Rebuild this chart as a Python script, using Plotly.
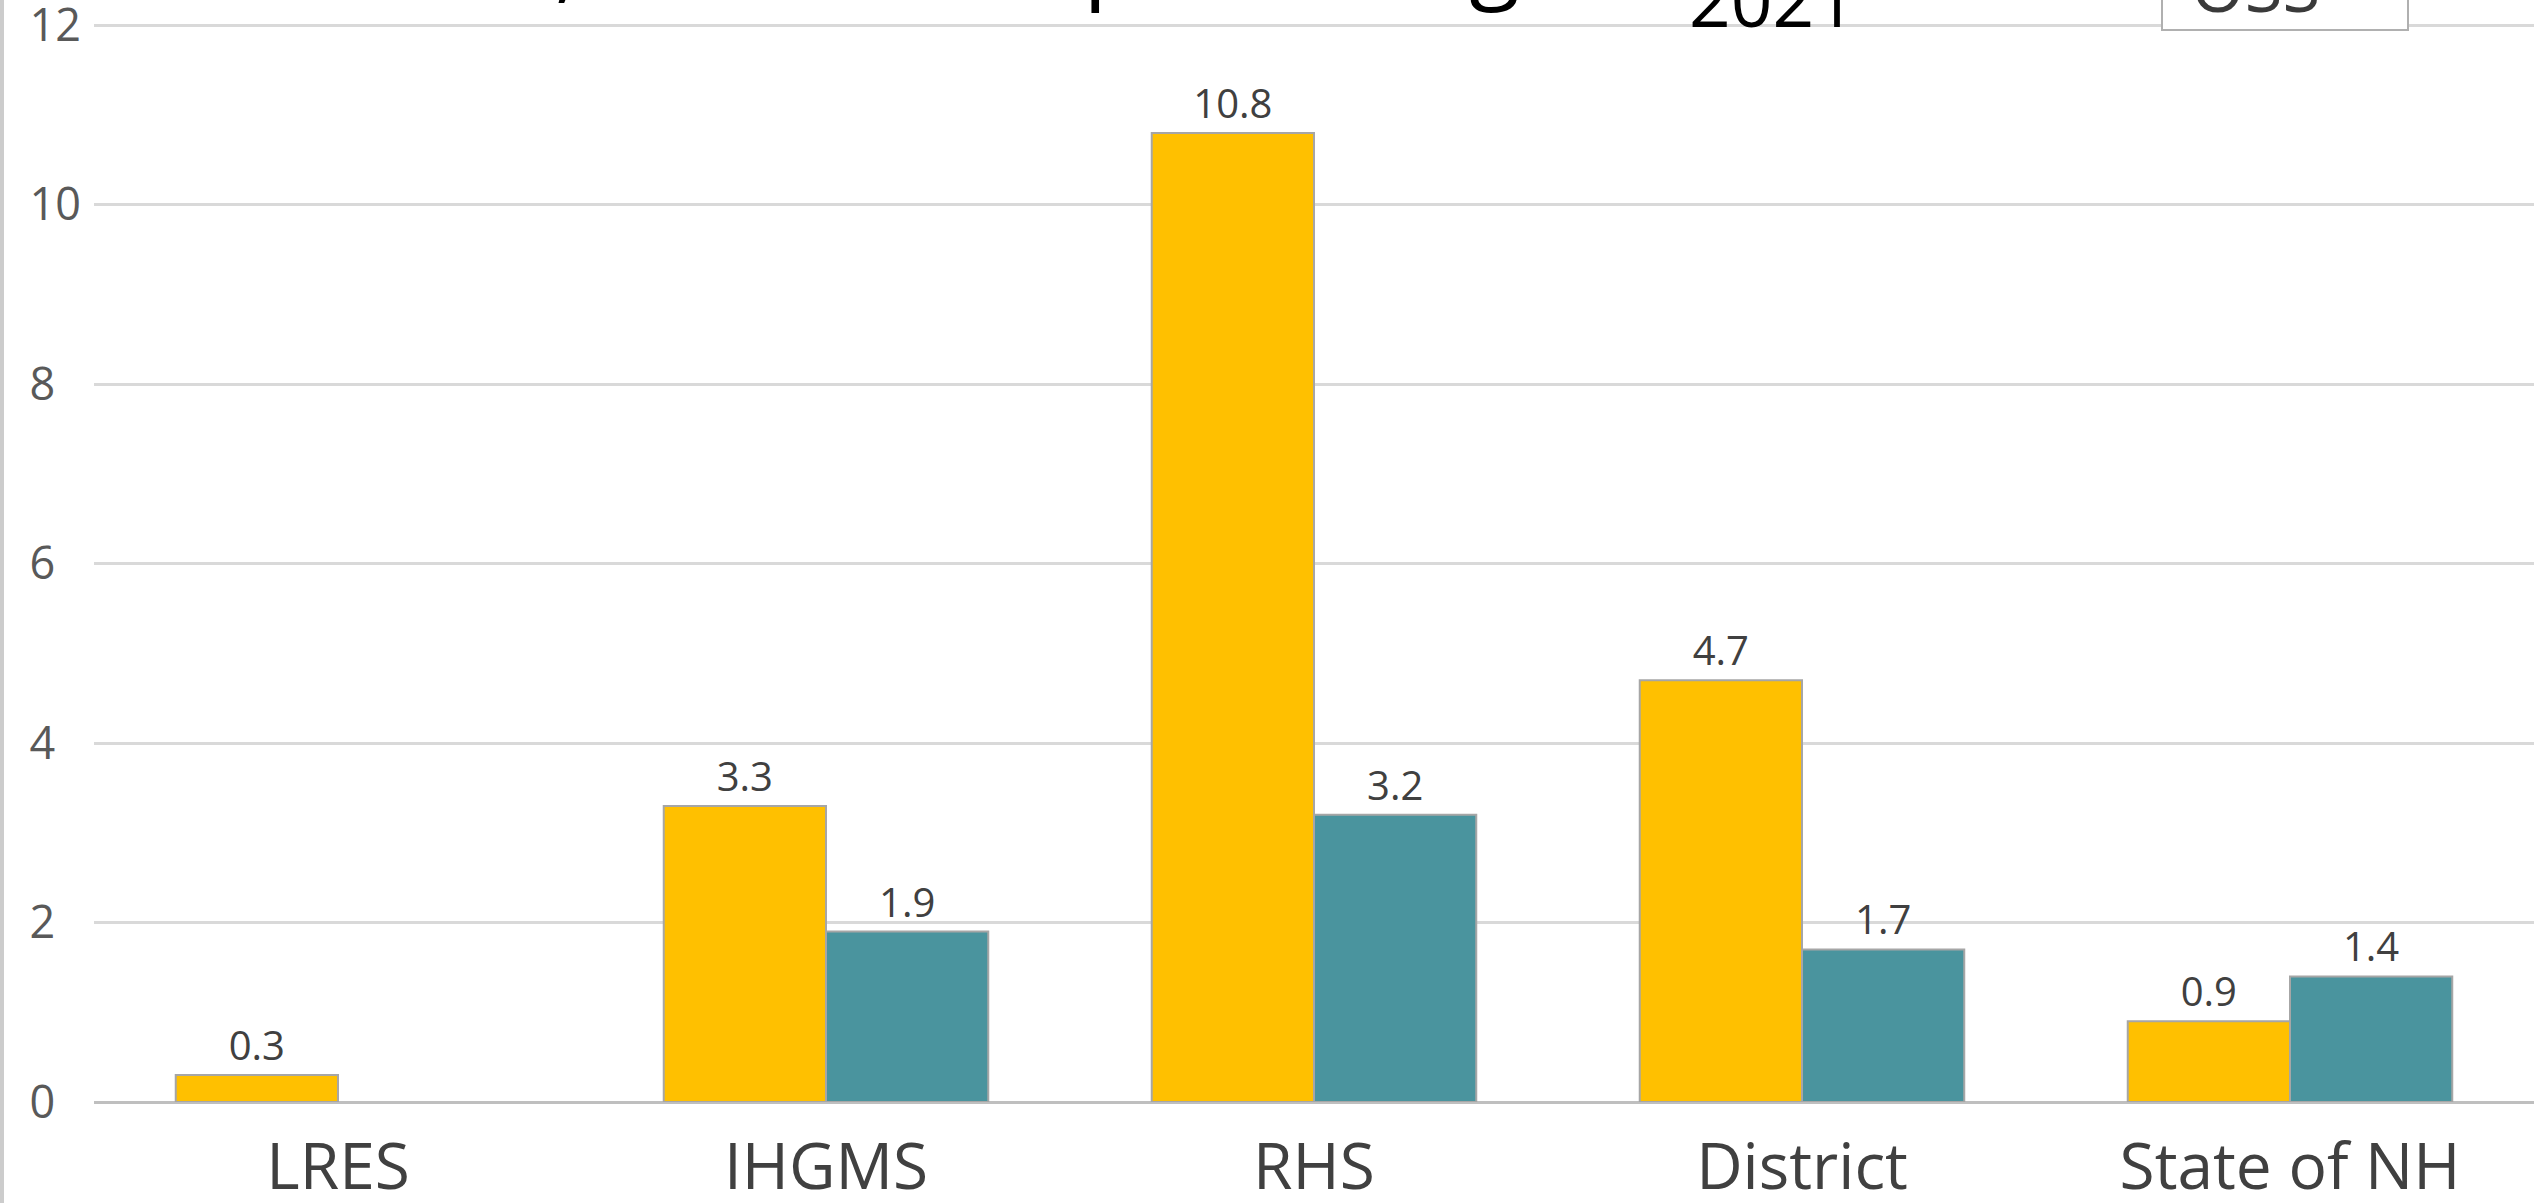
import plotly.graph_objects as go

# Suspension rates by school (percent of students)
schools = ["LRES", "IHGMS", "RHS", "District", "State of NH"]
iss_pct = [0.3, 3.3, 10.8, 4.7, 0.9]
oss_pct = [None, 1.9, 3.2, 1.7, 1.4]
y_ticks = [0, 2, 4, 6, 8, 10, 12]
y_tick_text = [f"{v}\u2007" if v < 10 else f"{v}" for v in y_ticks]

W, H = 2534, 1203
M_L, M_R, M_T, M_B = 94, 0, 23, 101
PLOT_W = W - M_L - M_R
PLOT_H = H - M_T - M_B


def px_x(px):
    return (px - M_L) / PLOT_W


def px_y(py):
    return (H - M_B - py) / PLOT_H


def labels(vals):
    return ["" if v is None else f"{v}" for v in vals]


label_font = dict(family="Open Sans", size=40, color="#404040")
outline = dict(color="#a6a6a6", width=2)

fig = go.Figure()
fig.add_trace(go.Bar(
    x=schools, y=iss_pct, name="ISS",
    marker=dict(color="#FFC000", line=outline),
    text=labels(iss_pct), textposition="outside",
    textfont=label_font, cliponaxis=False,
))
fig.add_trace(go.Bar(
    x=schools, y=oss_pct, name="OSS",
    marker=dict(color="#4A949E", line=outline),
    text=labels(oss_pct), textposition="outside",
    textfont=label_font, cliponaxis=False,
))

fig.update_layout(
    width=W, height=H,
    margin=dict(l=M_L, r=M_R, t=M_T, b=M_B, pad=0),
    paper_bgcolor="white", plot_bgcolor="white",
    barmode="group", bargap=0.335, bargroupgap=0,
    showlegend=False,
    font=dict(family="Open Sans", color="#404040"),
)

fig.update_xaxes(
    showgrid=False, showline=False, ticks="", automargin=False,
    tickfont=dict(family="Open Sans", size=64, color="#404040"),
    ticklabelstandoff=22,
)
fig.update_yaxes(
    range=[0, 12.025], tickvals=y_ticks, ticktext=y_tick_text,
    showgrid=True, gridcolor="#d9d9d9", gridwidth=3,
    zeroline=True, zerolinecolor="#bfbfbf", zerolinewidth=3,
    showline=False, ticks="", automargin=False,
    ticklabeloverflow="allow",
    tickfont=dict(family="Open Sans", size=45, color="#595959"),
    ticklabelstandoff=12,
)

# Slide border on the left edge
fig.add_shape(type="line", xref="paper", yref="paper",
              x0=px_x(2), x1=px_x(2), y0=px_y(H + 20), y1=px_y(-20),
              line=dict(color="#cccccc", width=4))

# Title (runs past the top of the frame)
title_font = dict(family="Open Sans", size=93, color="#000000")
fig.add_annotation(
    text="Students,",
    xref="paper", yref="paper", x=px_x(581), y=px_y(20),
    xanchor="right", yanchor="bottom", showarrow=False, font=title_font,
)
fig.add_annotation(
    text="ISS/OSS percentage",
    xref="paper", yref="paper", x=px_x(1574), y=px_y(20),
    xanchor="right", yanchor="bottom", showarrow=False, font=title_font,
)
fig.add_annotation(
    text="2021",
    xref="paper", yref="paper", x=px_x(1772), y=px_y(50),
    xanchor="center", yanchor="bottom", showarrow=False,
    font=dict(family="Open Sans", size=73, color="#000000"),
)

# Series tag box in the top-right corner
fig.add_shape(type="rect", xref="paper", yref="paper",
              x0=px_x(2162), x1=px_x(2408), y0=px_y(30), y1=px_y(-120),
              line=dict(color="#b0b0b0", width=2), fillcolor="white",
              layer="above")
fig.add_annotation(
    text="OSS",
    xref="paper", yref="paper", x=px_x(2255), y=px_y(34),
    xanchor="center", yanchor="bottom", showarrow=False,
    font=dict(family="Open Sans", size=69, color="#3a3a3a"),
)

fig.write_html("out.html")
